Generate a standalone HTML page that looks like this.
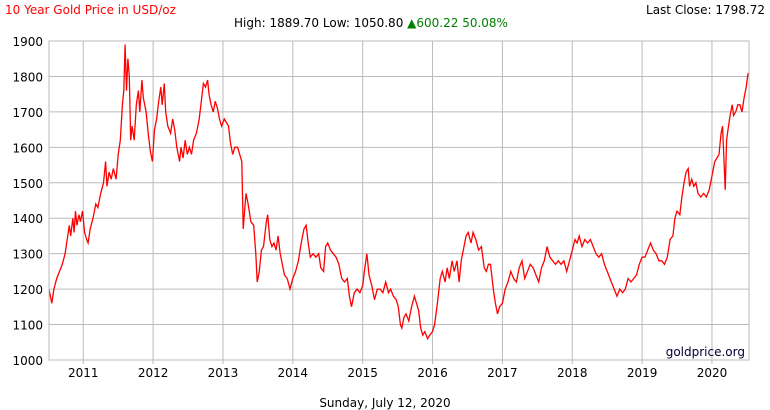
<!DOCTYPE html>
<html><head><meta charset="utf-8"><style>
body{margin:0;background:#fff;font-family:"DejaVu Sans","Liberation Sans",sans-serif;}
svg{display:block}
</style></head><body>
<svg id="chart" width="770" height="410" font-family="DejaVu Sans, Liberation Sans, sans-serif">
<text x="5" y="14" font-size="12" fill="#ff0000">10 Year Gold Price in USD/oz</text>
<text x="234" y="27" font-size="12" fill="#000">High: 1889.70 Low: 1050.80 <tspan fill="#008000">▲600.22 50.08%</tspan></text>
<text x="765" y="14" font-size="12" fill="#000" text-anchor="end">Last Close: 1798.72</text>
<text x="385" y="407" font-size="12" fill="#000" text-anchor="middle">Sunday, July 12, 2020</text>
<g id="grid"></g>
<g id="series"></g>
<rect x="49" y="41" width="700" height="319" fill="none" stroke="#bbb"/>
<text x="745" y="356" font-size="12" fill="#000033" text-anchor="end">goldprice.org</text>
</svg>
<script>
const yTicks=[1000,1100,1200,1300,1400,1500,1600,1700,1800,1900];
const xTicks=[2011,2012,2013,2014,2015,2016,2017,2018,2019,2020];
const dates=[2010.51,2010.53,2010.55,2010.58,2010.62,2010.66,2010.70,2010.74,2010.77,2010.80,2010.82,2010.85,2010.87,2010.89,2010.91,2010.94,2010.96,2010.99,2011.02,2011.05,2011.07,2011.10,2011.14,2011.18,2011.21,2011.25,2011.29,2011.32,2011.34,2011.37,2011.40,2011.43,2011.47,2011.50,2011.53,2011.56,2011.58,2011.60,2011.62,2011.64,2011.66,2011.68,2011.70,2011.73,2011.76,2011.79,2011.81,2011.84,2011.86,2011.90,2011.93,2011.96,2011.99,2012.02,2012.05,2012.08,2012.11,2012.13,2012.16,2012.18,2012.21,2012.25,2012.28,2012.31,2012.34,2012.38,2012.40,2012.43,2012.46,2012.49,2012.52,2012.55,2012.58,2012.62,2012.66,2012.69,2012.72,2012.75,2012.78,2012.80,2012.83,2012.86,2012.89,2012.92,2012.95,2012.98,2013.02,2013.05,2013.08,2013.11,2013.14,2013.17,2013.21,2013.24,2013.27,2013.29,2013.31,2013.33,2013.36,2013.40,2013.44,2013.47,2013.49,2013.52,2013.55,2013.58,2013.62,2013.64,2013.67,2013.70,2013.73,2013.76,2013.79,2013.82,2013.85,2013.88,2013.92,2013.96,2014.00,2014.04,2014.08,2014.12,2014.16,2014.19,2014.22,2014.25,2014.29,2014.33,2014.37,2014.40,2014.44,2014.47,2014.50,2014.54,2014.58,2014.62,2014.66,2014.70,2014.74,2014.78,2014.81,2014.84,2014.88,2014.92,2014.96,2015.00,2015.03,2015.06,2015.09,2015.13,2015.17,2015.21,2015.25,2015.29,2015.33,2015.37,2015.40,2015.44,2015.48,2015.51,2015.54,2015.56,2015.59,2015.62,2015.66,2015.70,2015.74,2015.77,2015.80,2015.83,2015.86,2015.89,2015.93,2015.96,2016.00,2016.03,2016.07,2016.11,2016.14,2016.18,2016.21,2016.24,2016.28,2016.31,2016.35,2016.38,2016.41,2016.45,2016.48,2016.51,2016.55,2016.58,2016.62,2016.66,2016.70,2016.74,2016.77,2016.80,2016.83,2016.87,2016.90,2016.93,2016.96,2017.00,2017.04,2017.08,2017.12,2017.16,2017.20,2017.24,2017.28,2017.32,2017.36,2017.40,2017.44,2017.48,2017.52,2017.56,2017.60,2017.64,2017.68,2017.72,2017.76,2017.80,2017.84,2017.88,2017.92,2017.96,2018.00,2018.04,2018.07,2018.10,2018.14,2018.18,2018.22,2018.26,2018.30,2018.34,2018.38,2018.42,2018.46,2018.50,2018.54,2018.58,2018.62,2018.64,2018.68,2018.72,2018.76,2018.80,2018.84,2018.88,2018.92,2018.96,2019.00,2019.04,2019.08,2019.12,2019.16,2019.20,2019.24,2019.28,2019.32,2019.36,2019.40,2019.44,2019.47,2019.50,2019.54,2019.57,2019.60,2019.63,2019.66,2019.68,2019.71,2019.74,2019.77,2019.80,2019.84,2019.88,2019.92,2019.96,2020.00,2020.04,2020.07,2020.10,2020.13,2020.15,2020.17,2020.19,2020.21,2020.23,2020.26,2020.29,2020.31,2020.34,2020.37,2020.40,2020.43,2020.46,2020.49,2020.51,2020.52];
const prices=[1200,1180,1160,1200,1230,1250,1270,1300,1340,1380,1350,1400,1360,1420,1380,1410,1390,1420,1360,1340,1330,1370,1400,1440,1430,1470,1500,1560,1490,1530,1510,1540,1510,1580,1620,1720,1760,1890,1760,1850,1800,1620,1660,1620,1720,1760,1700,1790,1740,1700,1640,1590,1560,1650,1680,1730,1770,1720,1780,1700,1660,1640,1680,1650,1600,1560,1600,1570,1620,1580,1600,1580,1620,1640,1680,1730,1780,1770,1790,1750,1720,1700,1730,1710,1680,1660,1680,1670,1660,1610,1580,1600,1600,1580,1560,1370,1420,1470,1440,1390,1380,1300,1220,1250,1310,1320,1390,1410,1340,1320,1330,1310,1350,1300,1270,1240,1230,1200,1230,1250,1280,1330,1370,1380,1330,1290,1300,1290,1300,1260,1250,1320,1330,1310,1300,1290,1270,1230,1220,1230,1180,1150,1190,1200,1190,1210,1260,1300,1240,1210,1170,1200,1200,1190,1220,1190,1200,1180,1170,1150,1100,1090,1120,1130,1110,1150,1180,1160,1140,1090,1070,1080,1060,1070,1080,1100,1160,1230,1250,1220,1260,1230,1280,1250,1280,1220,1280,1320,1350,1360,1330,1360,1340,1310,1320,1260,1250,1270,1270,1200,1160,1130,1150,1160,1200,1220,1250,1230,1220,1260,1280,1230,1250,1270,1260,1240,1220,1260,1280,1320,1290,1280,1270,1280,1270,1280,1250,1280,1310,1340,1330,1350,1320,1340,1330,1340,1320,1300,1290,1300,1270,1250,1230,1210,1190,1180,1200,1190,1200,1230,1220,1230,1240,1270,1290,1290,1310,1330,1310,1300,1280,1280,1270,1290,1340,1350,1400,1420,1410,1460,1500,1530,1540,1490,1510,1490,1500,1470,1460,1470,1460,1480,1520,1560,1570,1580,1640,1660,1570,1480,1620,1650,1690,1720,1690,1700,1720,1720,1700,1740,1770,1800,1810];
const L=49,R=749,T=41,B=360,X0=2010.51,X1=2020.53,Y0=1000,Y1=1900;
const xS=t=>L+(t-X0)*(R-L)/(X1-X0);
const yS=p=>B-(p-Y0)*(B-T)/(Y1-Y0);
const NS='http://www.w3.org/2000/svg';
const grid=document.getElementById('grid');
yTicks.forEach(v=>{
  const ln=document.createElementNS(NS,'line');
  ln.setAttribute('x1',L);ln.setAttribute('x2',R);ln.setAttribute('y1',yS(v));ln.setAttribute('y2',yS(v));
  ln.setAttribute('stroke','#bbb');
  
  
  grid.appendChild(ln);
  const tx=document.createElementNS(NS,'text');
  tx.setAttribute('x',43);tx.setAttribute('y',yS(v)+5);tx.setAttribute('text-anchor','end');tx.setAttribute('font-size','12');
  tx.textContent=v;
  
  
  grid.appendChild(tx);
});
xTicks.forEach(v=>{
  const x=xS(v);
  const ln=document.createElementNS(NS,'line');
  ln.setAttribute('x1',x);ln.setAttribute('x2',x);ln.setAttribute('y1',T);ln.setAttribute('y2',B+4);
  ln.setAttribute('stroke','#bbb');
  
  
  grid.appendChild(ln);
  const tx=document.createElementNS(NS,'text');
  tx.setAttribute('x',x);tx.setAttribute('y',377);tx.setAttribute('text-anchor','middle');tx.setAttribute('font-size','12');
  tx.textContent=v;
  
  
  grid.appendChild(tx);
});
const path=document.createElementNS(NS,'polyline');
path.setAttribute('points',dates.map((d,i)=>xS(d).toFixed(1)+','+yS(prices[i]).toFixed(1)).join(' '));
path.setAttribute('fill','none');path.setAttribute('stroke','#ff0000');path.setAttribute('stroke-width','1.3');


document.getElementById('series').appendChild(path);
</script>
</body></html>
